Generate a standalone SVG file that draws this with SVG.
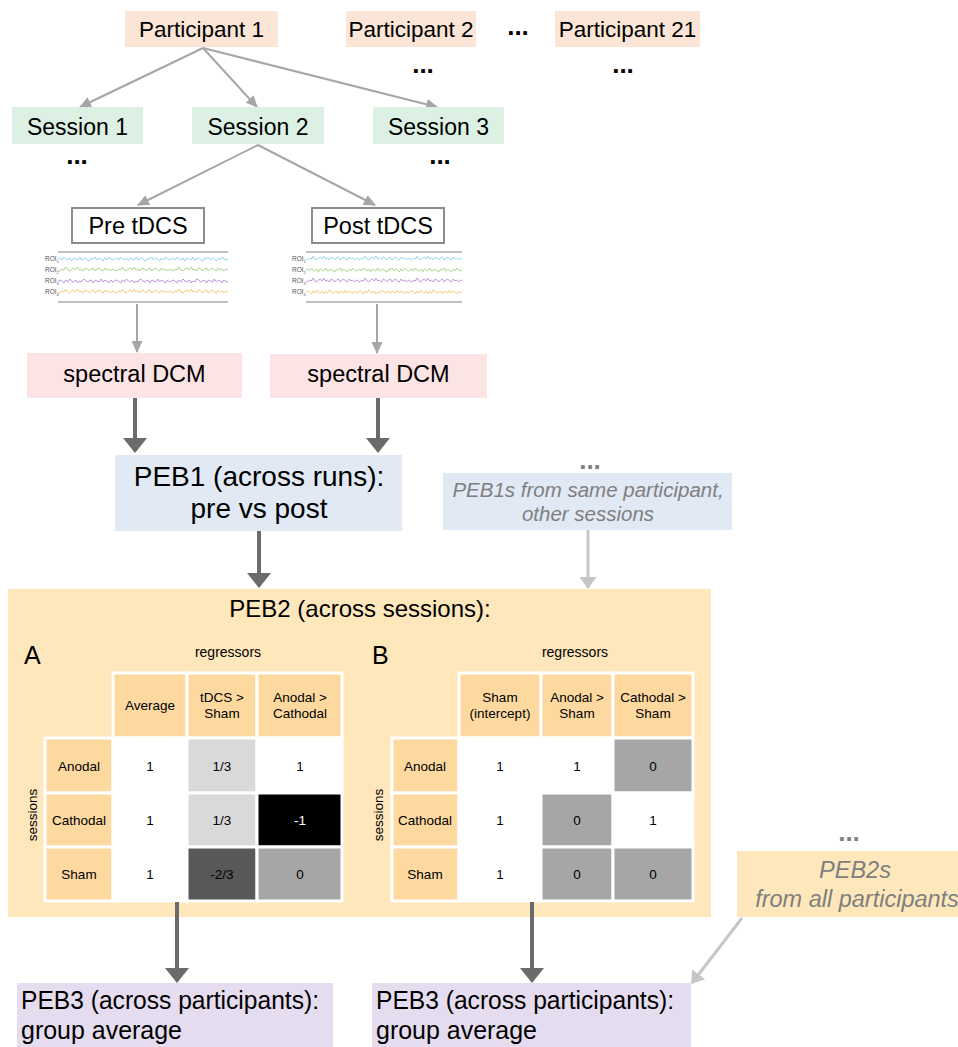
<svg xmlns="http://www.w3.org/2000/svg" width="958" height="1047" viewBox="0 0 958 1047">
<style>
text{font-family:"Liberation Sans",Arial,sans-serif;fill:#000}
.c{text-anchor:middle}
.t23{font-size:23px}
.cell{font-size:13.5px;text-anchor:middle}
.dots{font-size:26px;font-weight:bold;text-anchor:middle}
.gdots{font-size:26px;font-weight:bold;text-anchor:middle;fill:#808080}
.it{font-style:italic;fill:#7f7f7f;text-anchor:middle}
.roi{font-size:6.5px;fill:#555}
.hdr{fill:#fdd9a0;stroke:#fff;stroke-width:3}
.wc{fill:#fff;stroke:#fff;stroke-width:3}
.g1{fill:#d9d9d9;stroke:#fff;stroke-width:3}
.g2{fill:#a6a6a6;stroke:#fff;stroke-width:3}
.g3{fill:#595959;stroke:#fff;stroke-width:3}
.g4{fill:#000;stroke:#fff;stroke-width:3}
.la{stroke:#a6a6a6;stroke-width:2;fill:none;marker-end:url(#ahL)}
.da{stroke:#6b6b6b;stroke-width:4;fill:none;marker-end:url(#ahD)}
.pa{stroke:#c6c6c6;stroke-width:3;fill:none;marker-end:url(#ahP)}
.sig{fill:none;stroke-width:1;stroke-linejoin:round}
</style>
<defs>
<marker id="ahL" markerUnits="userSpaceOnUse" markerWidth="12" markerHeight="11" refX="11" refY="5.5" orient="auto" viewBox="0 0 12 11"><path d="M0,0 L12,5.5 L0,11 z" fill="#a6a6a6"/></marker>
<marker id="ahD" markerUnits="userSpaceOnUse" markerWidth="15" markerHeight="24" refX="13" refY="12" orient="auto" viewBox="0 0 15 24"><path d="M0,0 L15,12 L0,24 z" fill="#6b6b6b"/></marker>
<marker id="ahP" markerUnits="userSpaceOnUse" markerWidth="12" markerHeight="17" refX="11" refY="8.5" orient="auto" viewBox="0 0 12 17"><path d="M0,0 L12,8.5 L0,17 z" fill="#c6c6c6"/></marker>
<path id="sA" d="M0,0 l2,-1 2,2 2,-3 2,2 2,1 2,-2 2,3 2,-3 2,1 2,1 2,-3 2,3 2,-1 2,-1 2,2 2,1 2,-3 2,1 2,-2 2,3 2,-2 2,1 2,2 2,-3 2,2 2,-3 2,2 2,1 2,-1 l2,-1 2,2 2,-3 2,2 2,1 2,-2 2,3 2,-3 2,1 2,1 2,-3 2,3 2,-1 2,-1 2,2 2,1 2,-3 2,1 2,-2 2,3 2,-2 2,1 2,2 2,-3 2,2 2,-3 2,2 2,1 2,-1 l2,-1 2,2 2,-3 2,2 2,1 2,-2 2,3 2,-3 2,1 2,1 2,-3 2,3 2,-1 2,-1 2,2 2,1 2,-3 2,1 2,-2 2,3 2,-2 2,1 2,2 2,-3 2,2 2,-3 2,2 2,1 2,-1"/>
<path id="sB" d="M0,0 l2,1 2,-2 2,1 2,-3 2,3 2,1 2,-2 2,-1 2,2 2,-3 2,3 2,-1 2,2 2,-3 2,1 2,2 2,-2 2,-1 2,3 2,-2 2,-1 2,2 2,1 2,-3 2,2 2,-1 2,2 2,-2 2,1 l2,1 2,-2 2,1 2,-3 2,3 2,1 2,-2 2,-1 2,2 2,-3 2,3 2,-1 2,2 2,-3 2,1 2,2 2,-2 2,-1 2,3 2,-2 2,-1 2,2 2,1 2,-3 2,2 2,-1 2,2 2,-2 2,1 l2,1 2,-2 2,1 2,-3 2,3 2,1 2,-2 2,-1 2,2 2,-3 2,3 2,-1 2,2 2,-3 2,1 2,2 2,-2 2,-1 2,3 2,-2 2,-1 2,2 2,1 2,-3 2,2 2,-1 2,2 2,-2 2,1"/>
</defs>

<g id="connectors">
<line class="la" x1="203" y1="48" x2="80" y2="107"/>
<line class="la" x1="203" y1="48" x2="257" y2="107"/>
<line class="la" x1="203" y1="48" x2="437" y2="107"/>
<line class="la" x1="258" y1="145" x2="138" y2="205"/>
<line class="la" x1="258" y1="145" x2="375" y2="205"/>
<line class="la" x1="137" y1="304" x2="137" y2="352"/>
<line class="la" x1="377" y1="304" x2="377" y2="353"/>
<line class="da" x1="135" y1="398" x2="135" y2="451"/>
<line class="da" x1="378" y1="398" x2="378" y2="451"/>
<line class="da" x1="259" y1="531" x2="259" y2="586"/>
<line class="pa" x1="588" y1="530" x2="588" y2="588"/>
</g>

<g id="participant1"><rect x="125" y="11" width="153" height="36" fill="#fbe5d6"/><text class="c" x="201.5" y="37" font-size="22.5">Participant 1</text></g>
<g id="participant2"><rect x="346" y="11" width="130" height="36" fill="#fbe5d6"/><text class="c" x="411" y="37" font-size="22.5">Participant 2</text></g>
<g id="participant21"><rect x="555" y="11" width="145" height="36" fill="#fbe5d6"/><text class="c" x="627.5" y="37" font-size="22.5">Participant 21</text></g>
<g id="dots-top">
<text class="dots" x="518" y="35">...</text>
<text class="dots" x="423" y="73">...</text>
<text class="dots" x="623" y="73">...</text>
<text class="dots" x="77" y="164">...</text>
<text class="dots" x="440" y="164">...</text>
</g>

<g id="session1"><rect x="12" y="107" width="131" height="37" fill="#dcf0e4"/><text class="c t23" x="77.5" y="135">Session 1</text></g>
<g id="session2"><rect x="192" y="107" width="132" height="37" fill="#dcf0e4"/><text class="c t23" x="258" y="135">Session 2</text></g>
<g id="session3"><rect x="373" y="107" width="131" height="37" fill="#dcf0e4"/><text class="c t23" x="438.5" y="135">Session 3</text></g>

<g id="pre-tdcs"><rect x="72" y="208" width="132" height="35" fill="#fff" stroke="#8c8c8c" stroke-width="2"/><text class="c" x="138" y="234" font-size="23.5">Pre tDCS</text></g>
<g id="post-tdcs"><rect x="312" y="208" width="132" height="35" fill="#fff" stroke="#8c8c8c" stroke-width="2"/><text class="c" x="378" y="234" font-size="23.5">Post tDCS</text></g>

<g id="pre-signals">
<line x1="58" y1="252" x2="228" y2="252" stroke="#aaa" stroke-width="1.5"/>
<line x1="58" y1="302" x2="228" y2="302" stroke="#aaa" stroke-width="1.5"/>
<text class="roi" x="45" y="261">ROI<tspan font-size="4" dy="1.5">1</tspan></text>
<text class="roi" x="45" y="272">ROI<tspan font-size="4" dy="1.5">2</tspan></text>
<text class="roi" x="45" y="283">ROI<tspan font-size="4" dy="1.5">3</tspan></text>
<text class="roi" x="45" y="294">ROI<tspan font-size="4" dy="1.5">4</tspan></text>
<g transform="translate(58,0) scale(0.977,1)">
<use href="#sA" y="259" class="sig" stroke="#8fd3ec"/>
<use href="#sB" y="270" class="sig" stroke="#a9d08a"/>
<use href="#sA" y="281" class="sig" stroke="#bb8fd4" transform="translate(174,562) scale(-1,-1)"/>
<use href="#sB" y="292" class="sig" stroke="#f6c66e"/>
</g>
</g>
<g id="post-signals">
<line x1="306" y1="252" x2="462" y2="252" stroke="#aaa" stroke-width="1.5"/>
<line x1="306" y1="302" x2="462" y2="302" stroke="#aaa" stroke-width="1.5"/>
<text class="roi" x="292" y="261">ROI<tspan font-size="4" dy="1.5">1</tspan></text>
<text class="roi" x="292" y="272">ROI<tspan font-size="4" dy="1.5">2</tspan></text>
<text class="roi" x="292" y="283">ROI<tspan font-size="4" dy="1.5">3</tspan></text>
<text class="roi" x="292" y="294">ROI<tspan font-size="4" dy="1.5">4</tspan></text>
<g transform="translate(306,0) scale(0.897,1)">
<use href="#sB" y="259" class="sig" stroke="#8fd3ec"/>
<use href="#sA" y="270" class="sig" stroke="#a9d08a"/>
<use href="#sB" y="281" class="sig" stroke="#bb8fd4"/>
<use href="#sA" y="292" class="sig" stroke="#f6c66e" transform="translate(174,584) scale(-1,-1)"/>
</g>
</g>

<g id="spectral-dcm-1"><rect x="27" y="353" width="215" height="45" fill="#fde4e4"/><text class="c" x="134.5" y="382" font-size="23.5">spectral DCM</text></g>
<g id="spectral-dcm-2"><rect x="270" y="354" width="217" height="44" fill="#fde4e4"/><text class="c" x="378.5" y="382" font-size="23.5">spectral DCM</text></g>

<g id="peb1"><rect x="115" y="455" width="287" height="76" fill="#e1e9f5"/>
<text class="c" x="259" y="486" font-size="28">PEB1 (across runs):</text>
<text class="c" x="259" y="518" font-size="28">pre vs post</text></g>

<g id="peb1s-other"><text class="gdots" x="590" y="469">...</text>
<rect x="443" y="473" width="289" height="57" fill="#e1e9f5"/>
<text class="it" x="588" y="497" font-size="20.5">PEB1s from same participant,</text>
<text class="it" x="588" y="521" font-size="20.5">other sessions</text></g>

<g id="peb2">
<rect x="8" y="589" width="703" height="328" fill="#fde7bb"/>
<text class="c" x="360" y="617" font-size="24">PEB2 (across sessions):</text>
</g>

<g id="table-a">
<text x="24" y="664" font-size="25">A</text>
<text class="c" x="228" y="657" font-size="14">regressors</text>
<text class="c" font-size="13.5" transform="translate(37,815) rotate(-90)">sessions</text>
<rect class="hdr" x="113" y="673" width="74" height="65"/>
<rect class="hdr" x="187" y="673" width="70" height="65"/>
<rect class="hdr" x="257" y="673" width="85" height="65"/>
<rect class="hdr" x="45" y="738" width="68" height="55"/>
<rect class="hdr" x="45" y="793" width="68" height="54"/>
<rect class="hdr" x="45" y="847" width="68" height="54"/>
<rect class="wc" x="113" y="738" width="74" height="55"/>
<rect class="wc" x="113" y="793" width="74" height="54"/>
<rect class="wc" x="113" y="847" width="74" height="54"/>
<rect class="g1" x="187" y="738" width="70" height="55"/>
<rect class="g1" x="187" y="793" width="70" height="54"/>
<rect class="g3" x="187" y="847" width="70" height="54"/>
<rect class="wc" x="257" y="738" width="85" height="55"/>
<rect class="g4" x="257" y="793" width="85" height="54"/>
<rect class="g2" x="257" y="847" width="85" height="54"/>
<text class="cell" x="150" y="710">Average</text>
<text class="cell" x="222" y="702">tDCS &gt;</text><text class="cell" x="222" y="718">Sham</text>
<text class="cell" x="300" y="702">Anodal &gt;</text><text class="cell" x="300" y="718">Cathodal</text>
<text class="cell" x="79" y="771">Anodal</text>
<text class="cell" x="79" y="825">Cathodal</text>
<text class="cell" x="79" y="879">Sham</text>
<text class="cell" x="150" y="771">1</text><text class="cell" x="222" y="771">1/3</text><text class="cell" x="300" y="771">1</text>
<text class="cell" x="150" y="825">1</text><text class="cell" x="222" y="825">1/3</text><text class="cell" x="300" y="825" style="fill:#fff">-1</text>
<text class="cell" x="150" y="879">1</text><text class="cell" x="222" y="879">-2/3</text><text class="cell" x="300" y="879">0</text>
</g>

<g id="table-b">
<text x="372" y="664" font-size="25">B</text>
<text class="c" x="575" y="657" font-size="14">regressors</text>
<text class="c" font-size="13.5" transform="translate(383,815) rotate(-90)">sessions</text>
<rect class="hdr" x="459" y="673" width="82" height="65"/>
<rect class="hdr" x="541" y="673" width="72" height="65"/>
<rect class="hdr" x="613" y="673" width="80" height="65"/>
<rect class="hdr" x="392" y="738" width="67" height="55"/>
<rect class="hdr" x="392" y="793" width="67" height="54"/>
<rect class="hdr" x="392" y="847" width="67" height="54"/>
<rect class="wc" x="459" y="738" width="82" height="55"/>
<rect class="wc" x="459" y="793" width="82" height="54"/>
<rect class="wc" x="459" y="847" width="82" height="54"/>
<rect class="wc" x="541" y="738" width="72" height="55"/>
<rect class="g2" x="541" y="793" width="72" height="54"/>
<rect class="g2" x="541" y="847" width="72" height="54"/>
<rect class="g2" x="613" y="738" width="80" height="55"/>
<rect class="wc" x="613" y="793" width="80" height="54"/>
<rect class="g2" x="613" y="847" width="80" height="54"/>
<text class="cell" x="500" y="702">Sham</text><text class="cell" x="500" y="718">(intercept)</text>
<text class="cell" x="577" y="702">Anodal &gt;</text><text class="cell" x="577" y="718">Sham</text>
<text class="cell" x="653" y="702">Cathodal &gt;</text><text class="cell" x="653" y="718">Sham</text>
<text class="cell" x="425" y="771">Anodal</text>
<text class="cell" x="425" y="825">Cathodal</text>
<text class="cell" x="425" y="879">Sham</text>
<text class="cell" x="500" y="771">1</text><text class="cell" x="577" y="771">1</text><text class="cell" x="653" y="771">0</text>
<text class="cell" x="500" y="825">1</text><text class="cell" x="577" y="825">0</text><text class="cell" x="653" y="825">1</text>
<text class="cell" x="500" y="879">1</text><text class="cell" x="577" y="879">0</text><text class="cell" x="653" y="879">0</text>
</g>

<g id="peb2s-all"><text class="gdots" x="849" y="841">...</text>
<rect x="737" y="851" width="221" height="66" fill="#fde7bb"/>
<text class="it" x="855" y="878" font-size="23.5">PEB2s</text>
<text class="it" x="857" y="907" font-size="23.5">from all participants</text></g>

<g id="connectors-lower">
<line class="da" x1="177" y1="902" x2="177" y2="981"/>
<line class="da" x1="532" y1="902" x2="532" y2="981"/>
<line class="pa" x1="742" y1="918" x2="692" y2="983"/>
</g>

<g id="peb3-a"><rect x="17" y="983" width="316" height="64" fill="#e5ddef"/>
<text x="21" y="1009" font-size="26" textLength="298" lengthAdjust="spacingAndGlyphs">PEB3 (across participants):</text>
<text x="21" y="1039" font-size="26" textLength="161" lengthAdjust="spacingAndGlyphs">group average</text></g>
<g id="peb3-b"><rect x="372" y="983" width="319" height="64" fill="#e5ddef"/>
<text x="376" y="1009" font-size="26" textLength="298" lengthAdjust="spacingAndGlyphs">PEB3 (across participants):</text>
<text x="376" y="1039" font-size="26" textLength="161" lengthAdjust="spacingAndGlyphs">group average</text></g>
</svg>
